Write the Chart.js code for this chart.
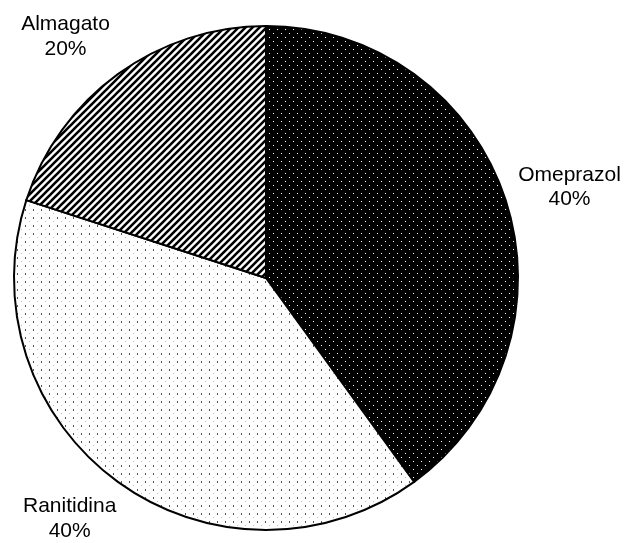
<!DOCTYPE html>
<html>
<head>
<meta charset="utf-8">
<script src="https://cdn.jsdelivr.net/npm/chart.js@4/dist/chart.umd.min.js"></script>
<style>
  html, body { margin: 0; padding: 0; background: #fff; }
  #wrap { width: 626px; height: 543px; }
</style>
</head>
<body>
<div id="wrap"><canvas id="pie" width="626" height="543"></canvas></div>
<script>
// Prescribed drugs and their share of prescriptions
const categories = ['Omeprazol', 'Ranitidina', 'Almagato'];
const shares = [40, 40, 20];
const valueLabels = ['40%', '40%', '20%'];

// Monochrome fill patterns, one per slice
function makeTile(size, draw) {
  const c = document.createElement('canvas');
  c.width = size; c.height = size;
  const g = c.getContext('2d');
  draw(g, size);
  return document.createElement('canvas').getContext('2d').createPattern(c, 'repeat');
}

const denseDots = makeTile(8, (g, s) => {
  g.fillStyle = '#000';
  g.fillRect(0, 0, s, s);
  g.fillStyle = '#fff';
  g.fillRect(1, 1, 1, 1);
  g.fillRect(5, 5, 1, 1);
});

const lightDots = makeTile(8, (g, s) => {
  g.fillStyle = '#fff';
  g.fillRect(0, 0, s, s);
  g.fillStyle = '#555';
  g.fillRect(1, 1, 1, 2);
  g.fillStyle = '#bbb';
  g.fillRect(5, 5, 1, 1);
});

const hatch = makeTile(7, (g, s) => {
  g.fillStyle = '#fff';
  g.fillRect(0, 0, s, s);
  g.strokeStyle = '#000';
  g.lineWidth = 2.6;
  g.lineCap = 'square';
  g.beginPath();
  g.moveTo(-1, s + 1); g.lineTo(s + 1, -1);
  g.moveTo(-1, 1); g.lineTo(1, -1);
  g.moveTo(s - 1, s + 1); g.lineTo(s + 1, s - 1);
  g.stroke();
});

// Label block placement relative to the pie centre (per slice)
const labelShift = [
  { dx: 303.5, dy: -92.7 },
  { dx: -196.3, dy: 239 },
  { dx: -200.5, dy: -243 }
];

const outsideLabels = {
  id: 'outsideLabels',
  afterDatasetsDraw(chart) {
    const ctx = chart.ctx;
    const arcs = chart.getDatasetMeta(0).data;
    ctx.save();
    ctx.font = '21px "Liberation Sans", Arial, sans-serif';
    ctx.fillStyle = '#000';
    ctx.textAlign = 'center';
    ctx.textBaseline = 'alphabetic';
    arcs.forEach((arc, i) => {
      const { x, y } = arc.getProps(['x', 'y'], true);
      const cx = x + labelShift[i].dx;
      const cy = y + labelShift[i].dy;
      ctx.fillText(categories[i], cx, cy - 4.7);
      ctx.fillText(valueLabels[i], cx, cy + 19.8);
    });
    ctx.restore();
  }
};

new Chart(document.getElementById('pie'), {
  type: 'pie',
  data: {
    labels: categories,
    datasets: [{
      data: shares,
      backgroundColor: [denseDots, lightDots, hatch],
      borderColor: '#000',
      borderWidth: 2,
      borderJoinStyle: 'miter'
    }]
  },
  options: {
    responsive: false,
    devicePixelRatio: 1,
    animation: false,
    layout: { padding: { top: 25, bottom: 12, left: 0, right: 94 } },
    plugins: {
      legend: { display: false },
      tooltip: { enabled: false }
    }
  },
  plugins: [outsideLabels]
});
</script>
</body>
</html>
